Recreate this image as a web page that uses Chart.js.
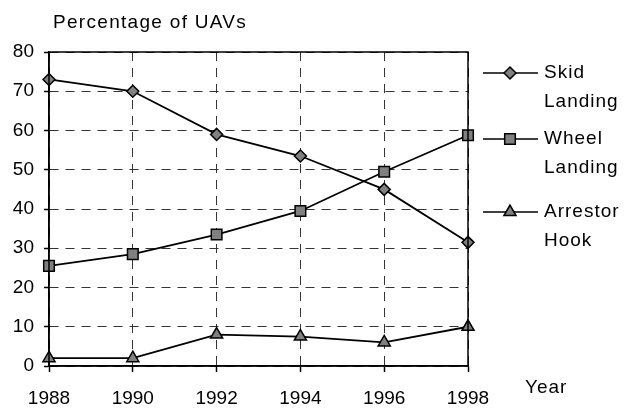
<!DOCTYPE html>
<html lang="en">
<head>
    <meta charset="UTF-8">
    <title>Percentage of UAVs</title>
    <script src="https://cdn.jsdelivr.net/npm/chart.js"></script>
    <style>
        body {
            margin: 0;
            background: #fff;
        }
        canvas {
            display: block;
        }
    </style>
</head>
<body>

<canvas id="myChart" width="624" height="410"></canvas>

<script>
    // dados
    const years = ['1988', '1990', '1992', '1994', '1996', '1998'];
    const skidLanding = [73, 70, 59, 53.5, 45, 31.5];
    const wheelLanding = [25.5, 28.5, 33.5, 39.5, 49.5, 58.8];
    const arrestorHook = [2, 2, 8, 7.5, 6, 10];
    const yTicks = [0, 10, 20, 30, 40, 50, 60, 70, 80];

    const legendRows = [
        { lines: ['Skid', 'Landing'], style: 'rectRot', radius: 6, y: 73 },
        { lines: ['Wheel', 'Landing'], style: 'rect', radius: 7.5, y: 139 },
        { lines: ['Arrestor', 'Hook'], style: 'triangle', radius: 7, y: 212 }
    ];

    const FONT = '"Liberation Sans", Arial, sans-serif';

    // moldura, título, legenda e rótulo "Year"
    const extras = {
        id: 'extras',
        afterDraw(chart) {
            const ctx = chart.ctx;
            const a = chart.chartArea;
            ctx.save();
            ctx.setLineDash([]);
            ctx.strokeStyle = '#000';
            ctx.lineWidth = 1.5;
            ctx.strokeRect(a.left, a.top, a.right - a.left, a.bottom - a.top);

            ctx.fillStyle = '#000';
            ctx.font = '19px ' + FONT;
            ctx.textBaseline = 'alphabetic';
            ctx.letterSpacing = '1.3px';
            ctx.fillText('Percentage of UAVs', 53, 28);
            ctx.letterSpacing = '1px';
            ctx.fillText('Year', 525, 393);

            legendRows.forEach(row => {
                ctx.strokeStyle = '#000';
                ctx.lineWidth = 1.5;
                ctx.beginPath();
                ctx.moveTo(483, row.y);
                ctx.lineTo(538, row.y);
                ctx.stroke();
                ctx.fillStyle = '#808080';
                ctx.strokeStyle = '#000';
                Chart.helpers.drawPoint(ctx, {
                    pointStyle: row.style,
                    radius: row.radius,
                    rotation: 0,
                    borderWidth: 1.5
                }, 510, row.y);
                ctx.fillStyle = '#000';
                ctx.textBaseline = 'middle';
                ctx.fillText(row.lines[0], 544, row.y);
                ctx.fillText(row.lines[1], 544, row.y + 29);
            });
            ctx.restore();
        }
    };

    function makeSet(label, values, style, radius) {
        return {
            label: label,
            data: values,
            borderColor: '#000',
            borderWidth: 1.8,
            backgroundColor: '#808080',
            pointStyle: style,
            pointRadius: radius,
            pointHoverRadius: radius,
            pointBackgroundColor: '#808080',
            pointBorderColor: '#000',
            pointBorderWidth: 1.5,
            tension: 0,
            clip: false
        };
    }

    // grade tracejada (no v4 o tracejado vem de border.dash)
    function gridOpts(len) {
        return {
            color: '#333',
            lineWidth: 1,
            tickLength: len,
            tickColor: '#000',
            tickWidth: 1.5,
            tickBorderDash: []
        };
    }

    const ctx = document.getElementById('myChart').getContext('2d');
    Chart.defaults.font.family = FONT;
    Chart.defaults.color = '#000';

    new Chart(ctx, {
        type: 'line',
        data: {
            labels: years,
            datasets: [
                makeSet('Skid Landing', skidLanding, 'rectRot', 6),
                makeSet('Wheel Landing', wheelLanding, 'rect', 7.5),
                makeSet('Arrestor Hook', arrestorHook, 'triangle', 7)
            ]
        },
        options: {
            responsive: false,
            animation: false,
            events: [],
            layout: {
                padding: { top: 52, right: 156, bottom: 0, left: 0 }
            },
            plugins: {
                legend: { display: false },
                title: { display: false },
                tooltip: { enabled: false }
            },
            scales: {
                x: {
                    offset: false,
                    afterFit(scale) { scale.height = 44; },
                    grid: gridOpts(6),
                    border: { color: '#000', width: 1.5, dash: [9, 7] },
                    ticks: {
                        font: { size: 19 },
                        color: '#000',
                        padding: 15,
                        maxRotation: 0
                    }
                },
                y: {
                    min: 0,
                    max: 80,
                    afterFit(scale) { scale.width = 49; },
                    afterBuildTicks(scale) {
                        scale.ticks = yTicks.map(v => ({ value: v }));
                    },
                    grid: gridOpts(5),
                    border: { color: '#000', width: 1.5, dash: [9, 7] },
                    ticks: {
                        font: { size: 19 },
                        color: '#000',
                        padding: 10
                    }
                }
            }
        },
        plugins: [extras]
    });
</script>

</body>
</html>
